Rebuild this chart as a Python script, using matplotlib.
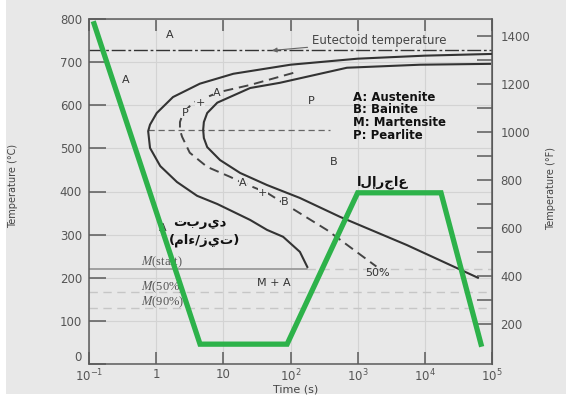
import numpy as np
import matplotlib
matplotlib.use('Agg')
import matplotlib.pyplot as plt
from matplotlib.patches import Rectangle
from matplotlib.ticker import NullLocator, FixedLocator

plt.rcParams['mathtext.fontset'] = 'dejavusans'

# ---- data ----
# quench / temper path (time s, temperature C)
path_t = [0.119, 4.5, 89, 1000, 17400, 68600]
path_T = [789, 46, 46, 397, 397, 46]

# transformation start curve
start_t = [1e5, 1e4, 1e3, 100, 14.1, 4.47, 1.78, 1.02, 0.81, 0.76, 0.81, 1.15,
           2.04, 4.07, 8.13, 25.1, 44.7, 77.6, 138, 178]
start_T = [719, 715, 708, 694, 673, 650, 619, 582, 555, 540, 501, 459,
           422, 390, 371, 334, 311, 295, 260, 225]

# 50 % curve
half_t = [110, 25, 8.9, 3.55, 2.51, 2.26, 2.26, 2.43, 3.16, 5.75, 12.6, 19.5,
          44.7, 97.7, 347, 1900]
half_T = [675, 647, 631, 606, 582, 561, 543, 527, 490, 457, 434, 420,
          397, 364, 311, 226]

# transformation finish curve
end_t = [93300, 8510, 692, 69.2, 25.1, 8.13, 5.75, 5.13, 5.01, 5.13, 5.75, 8.91,
         17.8, 44.7, 138, 550, 5370, 61700]
end_T = [696, 694, 687, 652, 640, 606, 582, 561, 543, 524, 503, 473,
         443, 415, 385, 341, 276, 200]

eutectoid = 727
nose_T = 543
m_start, m_50, m_90 = 220, 167, 130

xticks = [0.1, 1, 10, 100, 1000, 1e4, 1e5]
xlabels = ['$10^{-1}$', '1', '10', '$10^{2}$', '$10^{3}$', '$10^{4}$', '$10^{5}$']
f_major = [200, 400, 600, 800, 1000, 1200, 1400]
f_minor = [300, 500, 700, 900, 1100, 1300]

legend_lines = ['A: Austenite', 'B: Bainite', 'M: Martensite', 'P: Pearlite']

cool_txt = '\u062a\u0628\u0631\u064a\u062f'
medium_txt = '(\u0645\u0627\u0621/\u0632\u064a\u062a)'
temper_txt = '\u0627\u0644\u0625\u0631\u062c\u0627\u0639'

bg = '#e8e8e8'
tick_col = '#555555'

fig = plt.figure(figsize=(5.66, 3.98), dpi=100, facecolor=bg)
fig.patches.append(Rectangle((0, 0), 6 / 566, 1, transform=fig.transFigure,
                             fc='white', ec='none', zorder=-1))
fig.patches.append(Rectangle((0, 0), 1, 4 / 398, transform=fig.transFigure,
                             fc='white', ec='none', zorder=-1))

ax = fig.add_axes([89 / 566, 34 / 398, 403 / 566, 345 / 398])
ax.set_facecolor(bg)
ax.set_xscale('log')
ax.set_xlim(0.1, 1e5)
ax.set_ylim(0, 800)

ax.xaxis.set_major_locator(FixedLocator(xticks))
ax.xaxis.set_minor_locator(NullLocator())
ax.set_xticklabels(xlabels)
ax.set_yticks(range(0, 801, 100))
ax.grid(True, color='#d3d3d3', lw=0.8, zorder=0)
ax.set_axisbelow(True)

for s in ax.spines.values():
    s.set_color('#5a5a5a')
    s.set_linewidth(1.1)

ax.tick_params(axis='y', direction='in', length=12, width=1.1, color='#5a5a5a',
               labelsize=8.5, labelcolor=tick_col, pad=5)
ax.tick_params(axis='x', direction='in', length=8.5, width=1.1, color='#5a5a5a',
               top=True, labelsize=8.5, labelcolor=tick_col, pad=3)
# the "0" sits a little above the corner, clear of 10^-1
ax.get_yticklabels()[0].set_verticalalignment('bottom')

ax2 = ax.secondary_yaxis('right', functions=(lambda c: c * 9 / 5 + 32,
                                              lambda f: (f - 32) * 5 / 9))
ax2.set_yticks(f_major)
ax2.yaxis.set_minor_locator(FixedLocator(f_minor))
ax2.tick_params(which='both', direction='in', length=11, width=1.1, color='#5a5a5a',
                labelsize=8.5, labelcolor=tick_col, pad=6)
ax2.spines['right'].set_color('#5a5a5a')

# horizontal reference lines
ax.axhline(eutectoid, color='#333333', lw=1.0, dashes=(10, 2, 2, 2), zorder=2)
ax.plot([0.76, 390], [nose_T, nose_T], color='#666666', lw=0.9, dashes=(5, 3), zorder=2)
ax.plot([0.1, 178], [m_start, m_start], color='#9a9a9a', lw=1.3, zorder=2)
ax.plot([178, 1e5], [m_start, m_start], color='#c6c6c6', lw=1.0, dashes=(6, 4), zorder=2)
ax.axhline(m_50, color='#c6c6c6', lw=1.0, dashes=(6, 4), zorder=2)
ax.axhline(m_90, color='#c6c6c6', lw=1.0, dashes=(6, 4), zorder=2)

# transformation curves
ax.plot(start_t, start_T, color='#333333', lw=1.5, zorder=3)
ax.plot(half_t, half_T, color='#444444', lw=1.4, dashes=(5, 3), zorder=3)
ax.plot(end_t, end_T, color='#333333', lw=1.5, zorder=3)

# region labels
lab = dict(fontsize=8, color='#333333', ha='center', va='center', zorder=4)
box = dict(fc=bg, ec='none', pad=0.3)
ax.text(1.61, 763, 'A', **lab)
ax.text(0.356, 659, 'A', **lab)
ax.text(202, 610, 'P', **lab)
ax.text(444, 469, 'B', **lab)
ax.text(2.69, 582, 'P', bbox=box, **lab)
ax.text(4.5, 606, '+', bbox=box, **lab)
ax.text(8.05, 629, 'A', bbox=box, **lab)
ax.text(19.6, 420, 'A', bbox=box, **lab)
ax.text(38.9, 397, '+', bbox=box, **lab)
ax.text(82.8, 376, 'B', bbox=box, **lab)
ax.text(1.26, 316, 'A', **lab)
ax.text(56.8, 188, 'M + A', **lab)
ax.text(2006, 211, '50%', **lab)

mlab = dict(fontsize=9, color='#555555', ha='left', va='center',
            family='Liberation Serif', math_fontfamily='stix', zorder=4)
ax.text(0.6, 237, '$M$(start)', **mlab)
ax.text(0.6, 179, '$M$(50%)', **mlab)
ax.text(0.6, 144, '$M$(90%)', **mlab)

ax.annotate('Eutectoid temperature', xy=(53, 727), xytext=(2075, 749),
            ha='center', va='center', fontsize=8.5, color='#444444',
            arrowprops=dict(arrowstyle='-|>', color='#666666', lw=0.8,
                            mutation_scale=7, shrinkA=1, shrinkB=0),
            zorder=4)

for i, line in enumerate(legend_lines):
    ax.text(851, 619 - 30 * i, line, fontsize=8.5, fontweight='bold',
            color='#111111', ha='left', va='center', zorder=4)

# green heat-treatment path
ax.plot(path_t, path_T, color='#2db24a', lw=3.8, solid_joinstyle='miter', zorder=5)

# arabic labels
ar = dict(fontsize=9.5, fontweight='bold', color='#111111', ha='center',
          va='center', family='DejaVu Sans', zorder=6)
ax.text(4.5, 329, cool_txt, **ar)
ax.text(5.33, 288, medium_txt, **ar)
ax.text(2383, 422, temper_txt, **ar)

# axis titles
fig.text(13 / 566, 1 - 186 / 398, 'Temperature (\u00b0C)', rotation=90,
         ha='center', va='center', fontsize=7, color='#444444',
         family=['Liberation Sans Narrow', 'DejaVu Sans'])
fig.text(551 / 566, 1 - 188 / 398, 'Temperature (\u00b0F)', rotation=90,
         ha='center', va='center', fontsize=7, color='#444444',
         family=['Liberation Sans Narrow', 'DejaVu Sans'])
fig.text(296 / 566, 1 - 389 / 398, 'Time (s)', ha='center', va='center',
         fontsize=8, color='#444444')

plt.savefig('out.png', dpi=100, facecolor=bg)
plt.close()
